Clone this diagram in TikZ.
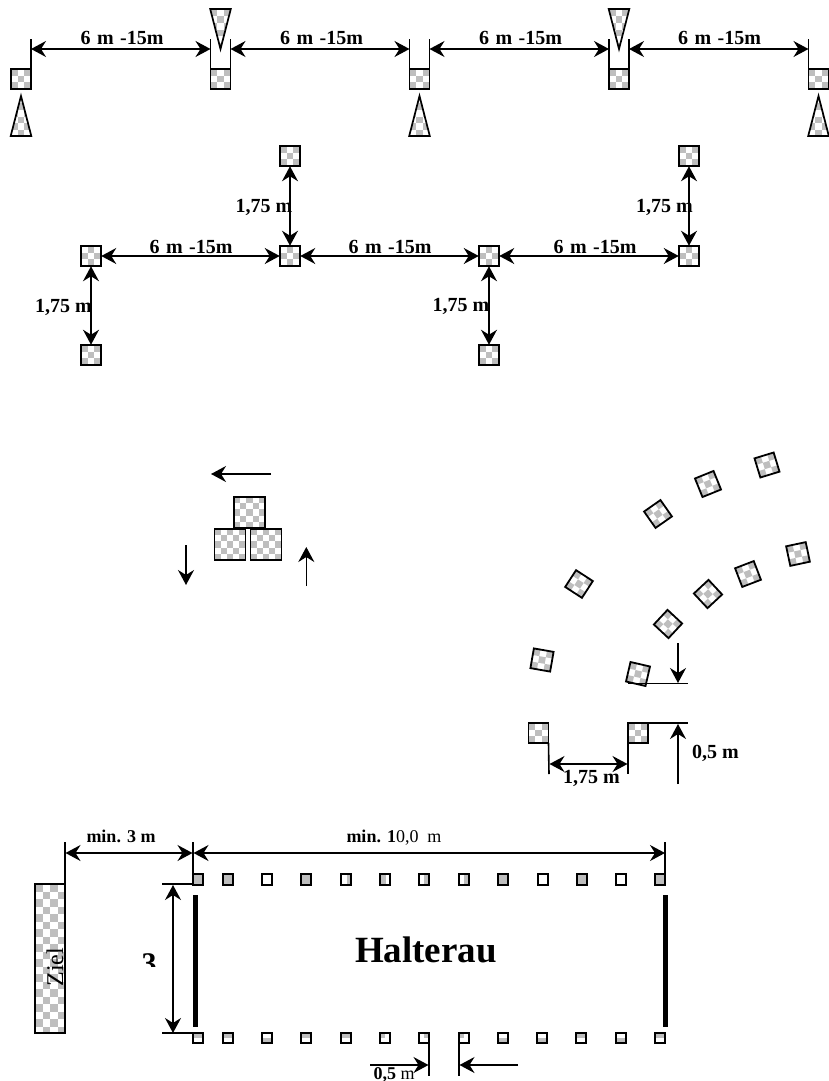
\documentclass[tikz,border=0pt]{standalone}
\usepackage{fontspec}
\setmainfont{Liberation Serif}
\usetikzlibrary{arrows.meta}
\definecolor{chkgray}{HTML}{BEBEBE}
\newcommand{\wideSp}{\spaceskip 6.5pt\relax}
\tikzset{
  sqnode/.style={draw=black,line width=1.8pt,inner sep=0pt,outer sep=0pt,rectangle,transform shape},
  smallnode/.style={draw=black,line width=2pt,inner sep=0pt,outer sep=0pt,rectangle,minimum size=10.5pt},
  ext/.style={draw=black,line width=1.6pt},
  bar/.style={fill=black,draw=none},
  tipA/.tip={Stealth[length=15pt,width=16pt,inset=5pt]},
  both/.style={draw=black,line width=1.6pt,{tipA}-{tipA}},
  one/.style={draw=black,line width=1.5pt,-{tipA}},
  lab/.style={inner sep=0pt,anchor=base,font=\fontsize{20}{22}\selectfont\bfseries},
  minlab/.style={inner sep=0pt,anchor=base,font=\fontsize{18}{20}\selectfont},
}
% name, x, y, size, cells, angle, parity
\newcommand{\chkSq}[7]{%
  \begin{scope}[shift={(#2,#3)},rotate=#6]
    \begin{scope}
      \clip (-#4/2,-#4/2) rectangle (#4/2,#4/2);
      \foreach \i in {1,...,#5}{\foreach \j in {1,...,#5}{%
        \ifodd\numexpr\i+\j+#7\relax\else
          \fill[chkgray] ({-#4/2+(\i-1)*#4/#5},{-#4/2+(\j-1)*#4/#5}) rectangle ++({#4/#5},{#4/#5});
        \fi}}
    \end{scope}
    \node[sqnode,minimum size=#4pt] (#1) at (0,0) {};
  \end{scope}}
% name, x, y, gray box x0 y0 x1 y1
\newcommand{\smSq}[7]{%
  \fill[chkgray] ({#2+#4},{#3+#5}) rectangle ({#2+#6},{#3+#7});
  \node[smallnode] (#1) at (#2,#3) {};}
% triangle: apex x, apex y, base y ; half width 10
\newcommand{\chkTri}[3]{%
  \begin{scope}
    \clip (#1,#2) -- ({#1-10.3},#3) -- ({#1+10.3},#3) -- cycle;
    \foreach \i in {0,1,2}{\foreach \j in {0,...,6}{%
      \ifodd\numexpr\i+\j\relax\else
        \fill[chkgray] ({#1-10.3+\i*6.87},{min(#2,#3)+\j*6.87}) rectangle ++(6.87,6.87);
      \fi}}
  \end{scope}
  \draw[draw=black,line width=1.7pt,line join=miter] (#1,#2) -- ({#1-10.3},#3) -- ({#1+10.3},#3) -- cycle;}
\begin{document}
\begin{tikzpicture}[x=1pt,y=-1pt]
\useasboundingbox (0,0) rectangle (828,1081);
% ---------- top row
\chkSq{ta}{21}{79}{20}{3}{0}{0}
\chkSq{tb}{220.5}{79}{20}{3}{0}{0}
\chkSq{tc}{419.5}{79}{20}{3}{0}{0}
\chkSq{td}{619}{79}{20}{3}{0}{0}
\chkSq{te}{818.5}{79}{20}{3}{0}{0}
\chkTri{21}{96}{136}
\chkTri{419.5}{96}{136}
\chkTri{818.5}{96}{136}
\chkTri{220.5}{49}{9}
\chkTri{619}{49}{9}
\coordinate (a1) at (ta.north east|-0,39);
\coordinate (b0) at (tb.north west|-0,39);
\coordinate (b1) at (tb.north east|-0,39);
\coordinate (c0) at (tc.north west|-0,39);
\coordinate (c1) at (tc.north east|-0,39);
\coordinate (d0) at (td.north west|-0,39);
\coordinate (d1) at (td.north east|-0,39);
\coordinate (e0) at (te.north west|-0,39);
\foreach \p/\q in {ta.north east/a1,tb.north west/b0,tb.north east/b1,tc.north west/c0,tc.north east/c1,td.north west/d0,td.north east/d1,te.north west/e0}
  \draw[ext] (\p) -- (\q);
\coordinate (a1m) at (a1|-0,49);
\coordinate (b0m) at (b0|-0,49);
\coordinate (b1m) at (b1|-0,49);
\coordinate (c0m) at (c0|-0,49);
\coordinate (c1m) at (c1|-0,49);
\coordinate (d0m) at (d0|-0,49);
\coordinate (d1m) at (d1|-0,49);
\coordinate (e0m) at (e0|-0,49);
\draw[both] (a1m) -- (b0m);
\draw[both] (b1m) -- (c0m);
\draw[both] (c1m) -- (d0m);
\draw[both] (d1m) -- (e0m);
\node[lab] (l1) at (122,45) {\wideSp 6 m -15m};
\node[lab] (l2) at (321.5,45) {\wideSp 6 m -15m};
\node[lab] (l3) at (520.5,45) {\wideSp 6 m -15m};
\node[lab] (l4) at (719.5,45) {\wideSp 6 m -15m};
% ---------- second group
\chkSq{ma}{91}{256}{20.5}{3}{0}{1}
\chkSq{mb}{290}{256}{20.5}{3}{0}{1}
\chkSq{mc}{489}{256}{20.5}{3}{0}{1}
\chkSq{md}{689}{256}{20.5}{3}{0}{1}
\chkSq{na}{290}{156}{20.5}{3}{0}{0}
\chkSq{nb}{689}{156}{20.5}{3}{0}{0}
\chkSq{nc}{91}{355}{20.5}{3}{0}{0}
\chkSq{nd}{489}{355}{20.5}{3}{0}{0}
\draw[both] (ma) -- (mb);
\draw[both] (mb) -- (mc);
\draw[both] (mc) -- (md);
\draw[both] (na) -- (mb);
\draw[both] (nb) -- (md);
\draw[both] (ma) -- (nc);
\draw[both] (mc) -- (nd);
\node[lab] (l5) at (191,253) {\wideSp 6 m -15m};
\node[lab] (l6) at (390,253) {\wideSp 6 m -15m};
\node[lab] (l7) at (595,253) {\wideSp 6 m -15m};
\node[lab] (l8) at (264,212) {1,75 m};
\node[lab] (l9) at (664.5,212) {1,75 m};
\node[lab] (l10) at (63.5,312) {1,75 m};
\node[lab] (l11) at (461,311) {1,75 m};
% ---------- stack of three
\chkSq{sa}{249.5}{512.5}{31}{5}{0}{0}
\chkSq{sb}{230}{544.5}{31}{5}{0}{0}
\chkSq{sc}{266}{544.5}{31}{5}{0}{0}
\coordinate (s1) at (271,474);
\coordinate (s2) at (211,474);
\coordinate (s3) at (186,545);
\coordinate (s4) at (186,585);
\coordinate (s5) at (306.3,586);
\coordinate (s6) at (306.3,547);
\draw[one] (s1) -- (s2);
\draw[one] (s3) -- (s4);
\draw[one] (s5) -- (s6);
% ---------- slalom
\chkSq{r1}{767}{465}{20}{3}{17}{0}
\chkSq{r2}{708}{484}{20}{3}{22}{0}
\chkSq{r3}{658}{514}{20}{3}{35}{0}
\chkSq{r4}{579}{584}{20}{3}{-33}{0}
\chkSq{r5}{542}{660}{20}{3}{-10}{0}
\chkSq{r6}{798}{554}{20}{3}{12}{0}
\chkSq{r7}{748}{574}{20}{3}{21}{0}
\chkSq{r8}{708}{594}{20}{3}{43}{0}
\chkSq{r9}{668}{624}{20}{3}{47}{0}
\chkSq{r10}{638}{674}{20}{3}{-13}{0}
\chkSq{r11}{538.5}{733}{20}{3}{0}{0}
\chkSq{r12}{638}{733}{20}{3}{0}{0}
\coordinate (u1) at (628,683.5);
\coordinate (u2) at (688,683.5);
\coordinate (u3) at (628,723);
\coordinate (u4) at (688,723);
\coordinate (u5) at (678,643);
\coordinate (u6) at (678,683);
\coordinate (u7) at (678,784);
\coordinate (u8) at (678,724);
\coordinate (u9) at (549,774);
\coordinate (u10) at (628,774);
\coordinate (u11) at (549.5,764);
\coordinate (u12) at (627.5,764);
\draw[ext] (u1) -- (u2);
\draw[ext] (u3) -- (u4);
\draw[one] (u5) -- (u6);
\draw[one] (u7) -- (u8);
\draw[ext] (r11.south east) -- (u9);
\draw[ext] (u3) -- (u10);
\draw[both] (u11) -- (u12);
\node[lab] (l12) at (591.5,783) {1,75 m};
\node[lab] (l13) at (715.5,758) {0,5 m};
% ---------- Halterau
\begin{scope}
  \clip (35,884) rectangle (65,1033);
  \foreach \i in {0,...,3}{\foreach \j in {0,...,19}{%
    \ifodd\numexpr\i+\j\relax\else
      \fill[chkgray] ({35+\i*7.5},{884+\j*7.5}) rectangle ++(7.5,7.5);
    \fi}}
\end{scope}
\node[draw=black,line width=1.6pt,inner sep=0pt,outer sep=0pt,minimum width=30pt,minimum height=149pt] (ziel) at (50,958.5) {};
\node[inner sep=0pt,anchor=base,rotate=90,font=\fontsize{24}{26}\selectfont] (zt) at (63,967) {Ziel};
\smSq{t1}{198}{879.5}{-5}{-5}{5}{5}
\smSq{t2}{228}{879.5}{-5}{-5}{5}{5}
\smSq{t3}{267}{879.5}{0}{0}{0}{0}
\smSq{t4}{306}{879.5}{-5}{-5}{5}{5}
\smSq{t5}{346}{879.5}{1}{-5}{5}{5}
\smSq{t6}{385}{879.5}{-5}{-5}{1}{5}
\smSq{t7}{424}{879.5}{0}{-5}{5}{5}
\smSq{t8}{464}{879.5}{0}{-5}{5}{5}
\smSq{t9}{503}{879.5}{-5}{-5}{5}{5}
\smSq{t10}{543}{879.5}{0}{0}{0}{0}
\smSq{t11}{582}{879.5}{-5}{-5}{5}{5}
\smSq{t12}{621}{879.5}{0}{0}{0}{0}
\smSq{t13}{660}{879.5}{-5}{-5}{5}{5}
\smSq{b1}{198}{1038}{-5}{-5}{5}{0}
\smSq{b2}{228}{1038}{-5}{-5}{5}{0}
\smSq{b3}{267}{1038}{-5}{0}{5}{5}
\smSq{b4}{306}{1038}{-5}{-5}{5}{0}
\smSq{b5}{346}{1038}{-5}{-5}{5}{0}
\smSq{b6}{385}{1038}{-5}{-5}{0}{0}
\smSq{b7}{424}{1038}{0}{-5}{5}{0}
\smSq{b8}{464}{1038}{-5}{-5}{0}{0}
\smSq{b9}{503}{1038}{-5}{0}{5}{5}
\smSq{b10}{542}{1038}{-5}{0}{5}{5}
\smSq{b11}{581}{1038}{-5}{-5}{5}{0}
\smSq{b12}{621}{1038}{-5}{0}{5}{5}
\smSq{b13}{660}{1038}{-5}{-5}{5}{0}
\node[bar,inner sep=0pt,minimum width=5.2pt,minimum height=132pt] (barl) at (195.4,961) {};
\node[bar,inner sep=0pt,minimum width=5.2pt,minimum height=132pt] (barr) at (665.6,961) {};
\coordinate (h1) at (65,884);
\coordinate (h2) at (65,842);
\coordinate (h3) at (193,884);
\coordinate (h4) at (193,842);
\coordinate (h5) at (665,874);
\coordinate (h6) at (665,842);
\coordinate (h7) at (65.5,853);
\coordinate (h8) at (192.5,853);
\coordinate (h9) at (193.5,853);
\coordinate (h10) at (665,853);
\coordinate (h11) at (162,884);
\coordinate (h12) at (162,1033);
\coordinate (h13) at (193,1033);
\coordinate (h14) at (173,885);
\coordinate (h15) at (173,1033);
\draw[ext] (h1) -- (h2);
\draw[ext] (h3) -- (h4);
\draw[ext] (h5) -- (h6);
\draw[both] (h7) -- (h8);
\draw[both] (h9) -- (h10);
\draw[ext] (h11) -- (h3);
\draw[ext] (h12) -- (h13);
\draw[both] (h14) -- (h15);
\coordinate (k1) at (429,1044);
\coordinate (k2) at (429,1076);
\coordinate (k3) at (459,1044);
\coordinate (k4) at (459,1076);
\coordinate (k5) at (370,1065);
\coordinate (k6) at (428.5,1065);
\coordinate (k7) at (518,1065);
\coordinate (k8) at (459.5,1065);
\draw[ext] (k1) -- (k2);
\draw[ext] (k3) -- (k4);
\draw[one] (k5) -- (k6);
\draw[one] (k7) -- (k8);
\node[minlab] (l14) at (121,842) {\bfseries min. 3 m};
\node[minlab] (l15) at (394,842) {{\bfseries min. 1}0,0 \ m};
\node[minlab] (l16) at (394,1079) {{\bfseries 0,5} m};
\node[inner sep=0pt,anchor=base,font=\fontsize{37}{40}\selectfont\bfseries] (hal) at (426,962) {Halterau};
\begin{scope}
  \clip (135,948) rectangle (165,966);
  \node[inner sep=0pt,anchor=base,font=\fontsize{30}{32}\selectfont\bfseries] (three) at (149,973) {3};
\end{scope}
\end{tikzpicture}
\end{document}
